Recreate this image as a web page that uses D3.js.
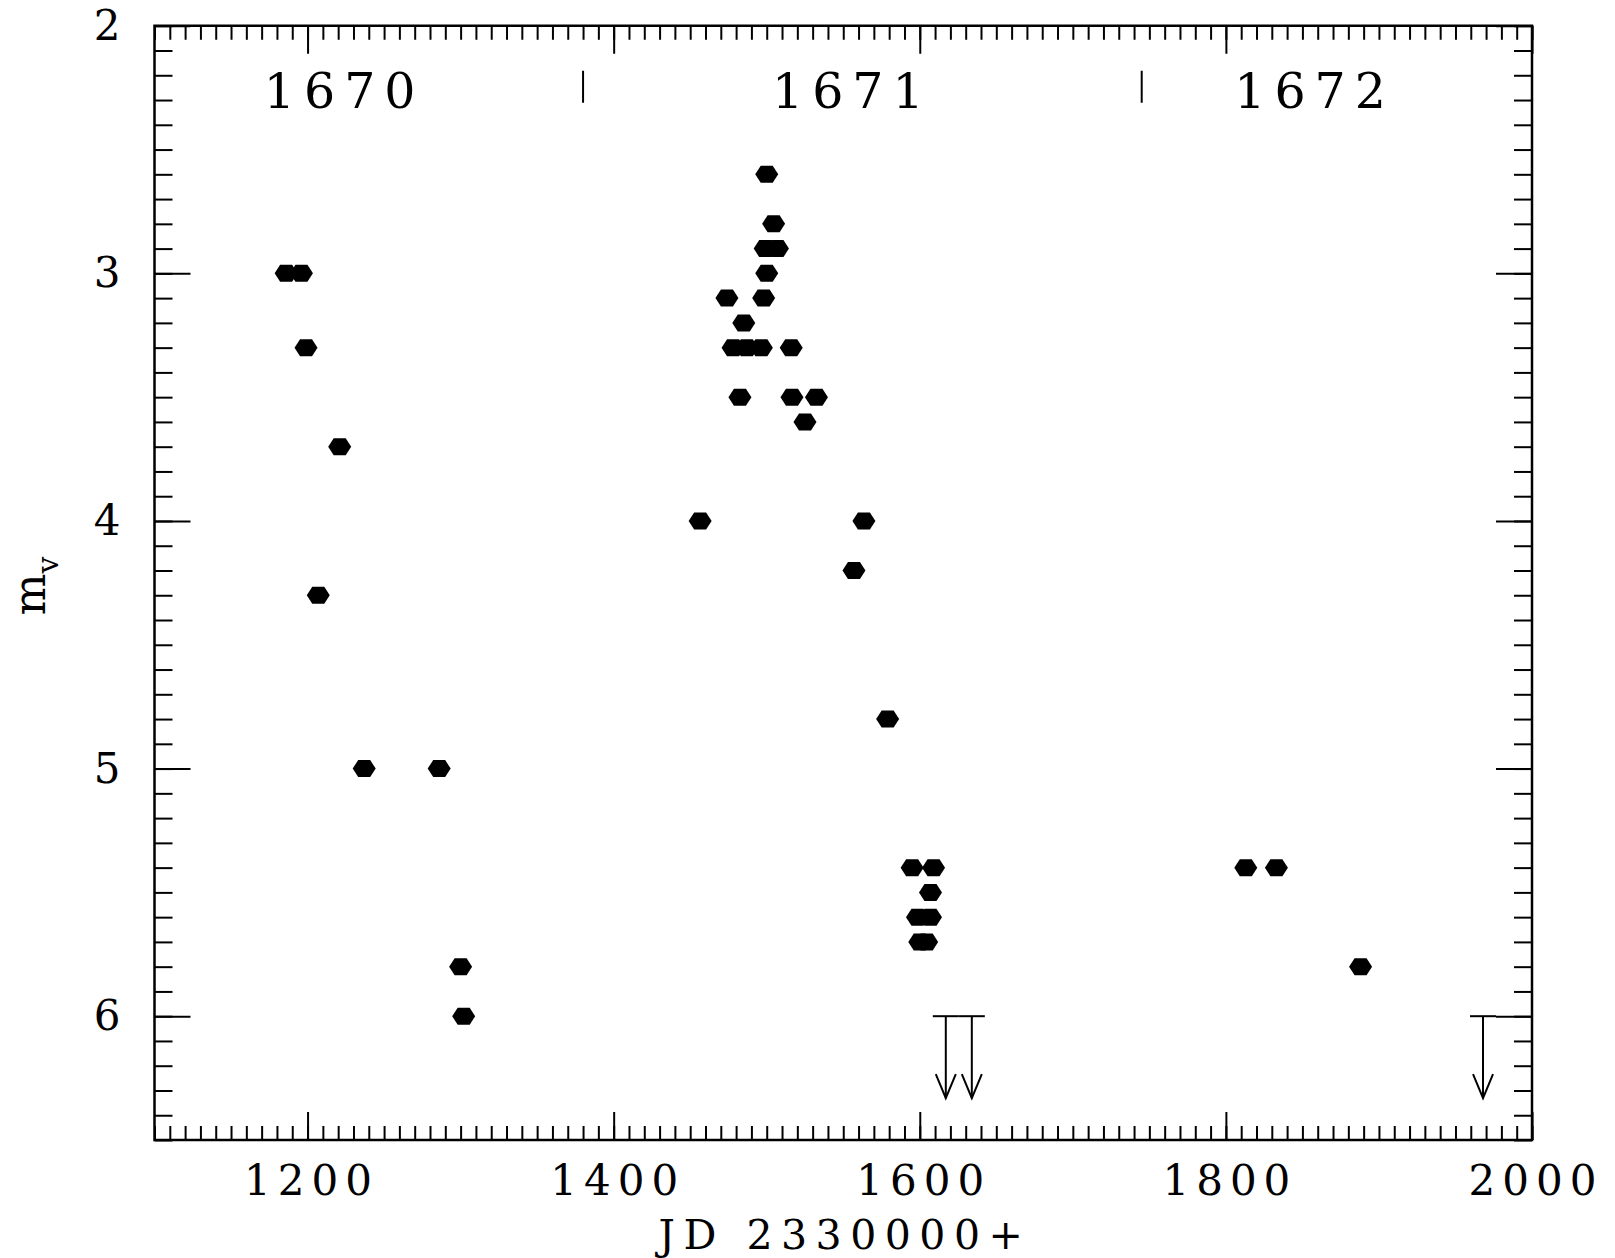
<!DOCTYPE html>
<html>
<head>
<meta charset="utf-8">
<script src="https://cdn.jsdelivr.net/npm/d3@7"></script>
<style>
  body { margin: 0; background: #fff; }
  text { font-family: "DejaVu Serif", "Liberation Serif", serif; fill: #000; }
</style>
</head>
<body>
<svg id="paper"></svg>
<script>
// observed magnitudes (JD - 2330000, m_v)
let obsJd = [1186, 1196, 1199, 1221, 1207, 1237, 1286, 1300, 1302,
    1456.5, 1500, 1504.5, 1499, 1507, 1500, 1474, 1498, 1485,
    1478, 1487, 1496.5, 1516, 1482.5, 1516.5, 1532.5, 1525,
    1563.5, 1557, 1579,
    1595, 1609, 1607, 1598.5, 1607, 1600, 1604.5,
    1813, 1833, 1888];
let obsMag = [3.0, 3.0, 3.3, 3.7, 4.3, 5.0, 5.0, 5.8, 6.0,
    4.0, 2.6, 2.8, 2.9, 2.9, 3.0, 3.1, 3.1, 3.2,
    3.3, 3.3, 3.3, 3.3, 3.5, 3.5, 3.5, 3.6,
    4.0, 4.2, 4.8,
    5.4, 5.4, 5.5, 5.6, 5.6, 5.7, 5.7,
    5.4, 5.4, 5.8];

// upper limits (not seen, fainter than)
let limitJd = [1617, 1634, 1968];
let limitMag = [6.0, 6.0, 6.0];

// calendar years along the top
let yearLabels = ["1670", "1671", "1672"];
let yearJd = [1221, 1553, 1855];
let yearStarts = [1380, 1745];

let xMajor = [1200, 1400, 1600, 1800, 2000];
let xMinor = d3.range(1100, 2001, 10);
let yMajor = [2, 3, 4, 5, 6];
let yMinor = d3.range(20, 66).map(d => d / 10);

let margin = {top: 25.75, right: 83, bottom: 118, left: 154.5},
    width = 1615 - margin.left - margin.right,
    height = 1258 - margin.top - margin.bottom;

let svg = d3.select("#paper")
        .attr("width", 1615)
        .attr("height", 1258),
    g = svg.append("g")
        .attr("transform", "translate(" + margin.left + "," + margin.top + ")");

let x = d3.scaleLinear().domain([1100, 2000]).range([0, width]);
let y = d3.scaleLinear().domain([2, 6.5]).range([0, height]);

function styleTicks(sel) {
    sel.select(".domain").remove();
    sel.selectAll(".tick line").attr("stroke", "#000").attr("stroke-width", 2);
}

// minor ticks, all four sides, pointing inward
g.append("g").attr("transform", "translate(0," + height + ")")
    .call(d3.axisBottom(x).tickValues(xMinor).tickSize(-14).tickFormat(""))
    .call(styleTicks);
g.append("g")
    .call(d3.axisTop(x).tickValues(xMinor).tickSize(-14).tickFormat(""))
    .call(styleTicks);
g.append("g")
    .call(d3.axisLeft(y).tickValues(yMinor).tickSize(-18).tickFormat(""))
    .call(styleTicks);
g.append("g").attr("transform", "translate(" + width + ",0)")
    .call(d3.axisRight(y).tickValues(yMinor).tickSize(-18).tickFormat(""))
    .call(styleTicks);

// major ticks
let bottomAxis = g.append("g").attr("transform", "translate(0," + height + ")")
    .call(d3.axisBottom(x).tickValues(xMajor).tickSizeInner(-28).tickSizeOuter(0)
        .tickPadding(25).tickFormat(d3.format("d")))
    .call(styleTicks);
bottomAxis.selectAll("text")
    .attr("font-size", 42)
    .attr("letter-spacing", 7)
    .attr("dx", 3.5)
    .attr("dy", "0.72em")
    .style("font-family", "'DejaVu Serif', serif");

g.append("g")
    .call(d3.axisTop(x).tickValues(xMajor).tickSizeInner(-28).tickSizeOuter(0).tickFormat(""))
    .call(styleTicks);

let leftAxis = g.append("g")
    .call(d3.axisLeft(y).tickValues(yMajor).tickSizeInner(-36).tickSizeOuter(0)
        .tickPadding(34).tickFormat(d3.format("d")))
    .call(styleTicks);
leftAxis.selectAll("text")
    .attr("font-size", 42)
    .style("font-family", "'DejaVu Serif', serif");

g.append("g").attr("transform", "translate(" + width + ",0)")
    .call(d3.axisRight(y).tickValues(yMajor).tickSizeInner(-36).tickSizeOuter(0).tickFormat(""))
    .call(styleTicks);

// frame
g.append("rect")
    .attr("x", 0).attr("y", 0)
    .attr("width", width).attr("height", height)
    .attr("fill", "none")
    .attr("stroke", "#000")
    .attr("stroke-width", 2.5);

// year labels and year boundaries
g.selectAll(".year")
    .data(yearLabels)
    .enter()
    .append("text")
    .classed("year", true)
    .attr("x", (d, i) => x(yearJd[i]) + 4.5)
    .attr("y", 82)
    .attr("text-anchor", "middle")
    .attr("font-size", 49)
    .attr("letter-spacing", 9)
    .text(d => d);

g.selectAll(".year-start")
    .data(yearStarts)
    .enter()
    .append("line")
    .attr("x1", d => x(d)).attr("x2", d => x(d))
    .attr("y1", 45).attr("y2", 77)
    .attr("stroke", "#000")
    .attr("stroke-width", 2);

// hexagon markers
let hw = 11.5, hh = 8.5, ht = 6;
let hexPath = "M" + (-hw) + ",0L" + (-ht) + "," + (-hh) + "L" + ht + "," + (-hh) +
    "L" + hw + ",0L" + ht + "," + hh + "L" + (-ht) + "," + hh + "Z";

g.selectAll(".obs")
    .data(obsJd)
    .enter()
    .append("path")
    .classed("obs", true)
    .attr("d", hexPath)
    .attr("transform", (d, i) => "translate(" + x(d) + "," + y(obsMag[i]) + ")")
    .attr("fill", "#000");

// upper limit arrows
let lim = g.selectAll(".limit")
    .data(limitJd)
    .enter()
    .append("g")
    .classed("limit", true)
    .attr("transform", (d, i) => "translate(" + x(d) + "," + y(limitMag[i]) + ")")
    .attr("fill", "none")
    .attr("stroke", "#000")
    .attr("stroke-width", 2);
lim.append("line").attr("x1", -13).attr("x2", 13).attr("y1", 0).attr("y2", 0);
lim.append("line").attr("x1", 0).attr("x2", 0).attr("y1", 0).attr("y2", 82);
lim.append("path").attr("d", "M-10,58L0,82L10,58");

// axis titles
svg.append("text")
    .attr("x", 845)
    .attr("y", 1249)
    .attr("text-anchor", "middle")
    .attr("font-size", 41)
    .attr("letter-spacing", 8.5)
    .text("JD 2330000+");

let ylab = svg.append("text")
    .attr("transform", "translate(45,586) rotate(-90)")
    .attr("text-anchor", "middle")
    .attr("font-size", 44);
ylab.append("tspan").text("m");
ylab.append("tspan").attr("font-size", 30).attr("dy", 13).text("v");
</script>
</body>
</html>
